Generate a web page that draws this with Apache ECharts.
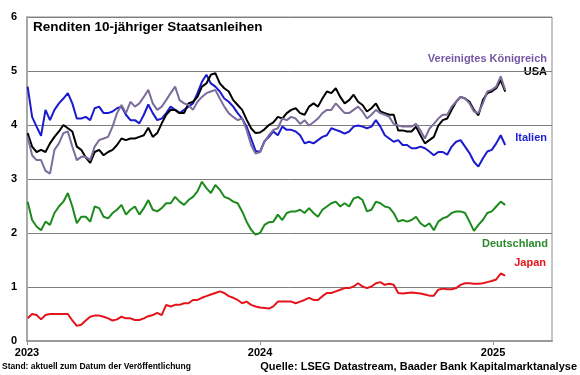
<!DOCTYPE html>
<html>
<head>
<meta charset="utf-8">
<script src="https://cdn.jsdelivr.net/npm/echarts@6/dist/echarts.min.js"></script>
<style>
html, body { margin: 0; padding: 0; background: #fff; }
#chart { width: 580px; height: 375px; }
</style>
</head>
<body>
<div id="chart"></div>
<script>
// weekly readings, first week starting Monday 2023-01-02
var firstWeek = Date.UTC(2023, 0, 2);
var yTicks = [0, 1, 2, 3, 4, 5, 6];

var italien = [4.71, 4.15, 3.97, 3.8, 4.28, 4.09, 4.28, 4.4, 4.49, 4.59,
    4.4, 4.12, 4.12, 4.15, 4.09, 4.31, 4.34, 4.22, 4.22, 4.25,
    4.31, 4.34, 4.19, 4.09, 4.09, 4.03, 4.19, 4.38,
    4.22, 4.09, 4.12, 4.22, 4.34, 4.28, 4.22, 4.28, 4.34, 4.4,
    4.59, 4.8, 4.93, 4.77, 4.71, 4.62, 4.49, 4.43, 4.34, 4.22,
    4.12, 3.97, 3.75, 3.52, 3.5, 3.7, 3.78,
    3.88, 3.81, 3.97, 3.91, 3.91, 3.88, 3.81, 3.66, 3.69, 3.66,
    3.72, 3.78, 3.81, 3.94, 3.91, 3.88, 3.84, 3.88, 3.97, 3.99,
    3.97, 3.94, 3.97, 4.09, 3.97, 3.81, 3.75,
    3.69, 3.72, 3.63, 3.63, 3.57, 3.57, 3.6, 3.57, 3.51, 3.44,
    3.5, 3.5, 3.45, 3.6, 3.69, 3.72, 3.6, 3.48, 3.32, 3.23,
    3.38, 3.51, 3.54, 3.66, 3.81, 3.63];

var usa = [3.85, 3.6, 3.5, 3.54, 3.5, 3.66, 3.78, 3.88, 4.0, 3.94,
    3.88, 3.6, 3.54, 3.4, 3.3, 3.5, 3.54, 3.44, 3.5, 3.54,
    3.63, 3.75, 3.72, 3.75, 3.75, 3.78, 3.81, 3.95,
    3.78, 3.85, 4.03, 4.19, 4.28, 4.28, 4.22, 4.22, 4.4, 4.43,
    4.52, 4.71, 4.77, 4.93, 4.96, 4.77, 4.68, 4.62, 4.46, 4.37,
    4.28, 4.1, 3.94, 3.85, 3.86, 3.92, 4.0,
    4.05, 4.15, 4.12, 4.22, 4.28, 4.31, 4.22, 4.19, 4.34, 4.4,
    4.34, 4.49, 4.62, 4.59, 4.68, 4.52, 4.4, 4.46, 4.56, 4.43,
    4.37, 4.25, 4.31, 4.4, 4.25, 4.22, 4.19,
    4.19, 3.9, 3.9, 3.88, 3.88, 3.97, 3.81, 3.66, 3.72, 3.78,
    3.99, 4.09, 4.12, 4.28, 4.43, 4.52, 4.49, 4.43, 4.28, 4.18,
    4.46, 4.59, 4.62, 4.68, 4.83, 4.62];

var uk = [3.78, 3.44, 3.35, 3.35, 3.15, 3.1, 3.54, 3.66, 3.85, 3.88,
    3.6, 3.35, 3.41, 3.41, 3.35, 3.6, 3.72, 3.75, 3.78, 3.97,
    4.22, 4.37, 4.22, 4.43, 4.34, 4.4, 4.52, 4.65,
    4.4, 4.28, 4.34, 4.46, 4.59, 4.71, 4.46, 4.4, 4.37, 4.28,
    4.43, 4.52, 4.59, 4.62, 4.65, 4.49, 4.34, 4.22, 4.15, 4.09,
    4.12, 3.91, 3.63, 3.47, 3.5, 3.69, 3.81,
    3.91, 3.94, 4.12, 4.09, 4.15, 4.12, 4.02, 4.09, 3.99, 4.05,
    4.12, 4.22, 4.28, 4.28, 4.4, 4.31, 4.22, 4.22, 4.28, 4.34,
    4.25, 4.12, 4.19, 4.28, 4.22, 4.19, 4.15,
    4.02, 3.99, 3.97, 3.97, 3.97, 4.02, 3.9, 3.75, 3.93, 4.02,
    4.12, 4.19, 4.19, 4.34, 4.43, 4.52, 4.49, 4.4, 4.25, 4.22,
    4.4, 4.62, 4.65, 4.71, 4.9, 4.65];

var deutschland = [2.58, 2.24, 2.12, 2.05, 2.21, 2.15, 2.37, 2.49, 2.58, 2.74,
    2.49, 2.18, 2.3, 2.3, 2.21, 2.49, 2.46, 2.3, 2.27, 2.37,
    2.43, 2.52, 2.34, 2.43, 2.49, 2.34, 2.46, 2.61,
    2.43, 2.4, 2.46, 2.55, 2.55, 2.67, 2.58, 2.52, 2.61, 2.67,
    2.77, 2.95, 2.83, 2.74, 2.89, 2.8, 2.67, 2.64, 2.58, 2.55,
    2.4, 2.21, 2.06, 1.97, 2.0, 2.15, 2.2,
    2.21, 2.34, 2.24, 2.37, 2.4, 2.4, 2.43, 2.37, 2.46, 2.37,
    2.3, 2.43, 2.49, 2.55, 2.58, 2.49, 2.55, 2.49, 2.64, 2.67,
    2.61, 2.4, 2.43, 2.58, 2.55, 2.49, 2.47,
    2.37, 2.21, 2.24, 2.21, 2.24, 2.3, 2.18, 2.12, 2.18, 2.05,
    2.21, 2.27, 2.3, 2.37, 2.4, 2.4, 2.37, 2.21, 2.04, 2.15,
    2.24, 2.37, 2.4, 2.49, 2.58, 2.52];

var japan = [0.42, 0.5, 0.48, 0.4, 0.48, 0.5, 0.5, 0.5, 0.5, 0.5,
    0.38, 0.28, 0.3, 0.38, 0.45, 0.47, 0.47, 0.45, 0.42, 0.38,
    0.4, 0.45, 0.42, 0.42, 0.39, 0.39, 0.42, 0.46,
    0.48, 0.52, 0.48, 0.67, 0.64, 0.67, 0.67, 0.7, 0.7, 0.76,
    0.76, 0.8, 0.83, 0.86, 0.89, 0.92, 0.89, 0.83, 0.8, 0.76,
    0.7, 0.73, 0.67, 0.64, 0.62, 0.61, 0.6,
    0.64, 0.73, 0.73, 0.73, 0.73, 0.7, 0.73, 0.76, 0.8, 0.76,
    0.76, 0.83, 0.89, 0.89, 0.92, 0.95, 0.98, 0.98, 1.01, 1.07,
    1.01, 0.98, 1.01, 1.07, 1.09, 1.04, 1.06,
    1.04, 0.89, 0.88, 0.89, 0.9, 0.89, 0.88, 0.86, 0.84, 0.84,
    0.95, 0.97, 0.96, 0.96, 0.98, 1.04, 1.07, 1.07, 1.06, 1.06,
    1.07, 1.09, 1.11, 1.14, 1.25, 1.21];

// date of week i as decimal year, so that year ticks land on 1 January
function weekToYear(i) {
    var t = firstWeek + i * 7 * 86400000;
    var y = new Date(t).getUTCFullYear();
    var a = Date.UTC(y, 0, 1), b = Date.UTC(y + 1, 0, 1);
    return y + (t - a) / (b - a);
}
function pts(arr) {
    return arr.map(function(v, i) { return [weekToYear(i), v]; });
}

var FONT = '"Liberation Sans", Arial, sans-serif';
var chart = echarts.init(document.getElementById('chart'));

function line(name, arr, color) {
    return {
        name: name,
        type: 'line',
        data: pts(arr),
        showSymbol: false,
        symbol: 'none',
        lineStyle: { color: color, width: 2 },
        itemStyle: { color: color },
        animation: false
    };
}

function label(text, x, y, color, size) {
    return {
        type: 'text',
        x: x, y: y,
        style: {
            text: text,
            fill: color,
            font: 'bold ' + size + 'px ' + FONT,
            textAlign: 'right', align: 'right',
            textVerticalAlign: 'middle', verticalAlign: 'middle'
        }
    };
}

var option = {
    animation: false,
    grid: {
        left: 27, right: 28, top: 17, bottom: 34,
        containLabel: false,
        outerBoundsMode: 'none',
        show: true,
        borderColor: '#8c8c8c',
        borderWidth: 1
    },
    xAxis: {
        type: 'value',
        min: 2023,
        max: 2025.253,
        interval: 1,
        axisLine: { lineStyle: { color: '#9a9a9a', width: 2 } },
        axisTick: { show: true, length: 4, lineStyle: { color: '#9a9a9a' } },
        splitLine: { show: false },
        axisLabel: {
            showMaxLabel: false,
            margin: 6,
            color: '#000',
            fontWeight: 'bold',
            fontSize: 11,
            fontFamily: FONT,
            formatter: function(v) { return Math.round(v) === v ? String(v) : ''; }
        }
    },
    yAxis: {
        type: 'value',
        min: yTicks[0],
        max: yTicks[yTicks.length - 1],
        interval: 1,
        axisLine: { show: true, lineStyle: { color: '#a8a8a8', width: 2 } },
        axisTick: { show: false },
        splitLine: { lineStyle: { color: '#7f7f7f', width: 1 } },
        axisLabel: {
            margin: 10,
            color: '#000',
            fontWeight: 'bold',
            fontSize: 11,
            fontFamily: FONT
        }
    },
    series: [
        line('Deutschland', deutschland, '#1c8a1c'),
        line('Japan', japan, '#e3141b'),
        line('Italien', italien, '#1a1acf'),
        line('USA', usa, '#000000'),
        line('Vereinigtes Königreich', uk, '#7c6d9c')
    ],
    graphic: [
        {
            type: 'text', x: 33, y: 27,
            style: {
                text: 'Renditen 10-jähriger Staatsanleihen',
                fill: '#000',
                font: 'bold 13.5px ' + FONT,
                textVerticalAlign: 'middle', verticalAlign: 'middle'
            }
        },
        label('Vereinigtes Königreich', 547, 59, '#7757a3', 11),
        label('USA', 547, 72, '#000', 11),
        label('Italien', 547, 138, '#1f1fd6', 11),
        label('Deutschland', 548, 244, '#2a8a2a', 11),
        label('Japan', 546, 263, '#e3141b', 11),
        {
            type: 'text', x: 2, y: 367,
            style: {
                text: 'Stand: aktuell zum Datum der Veröffentlichung',
                fill: '#000',
                font: 'bold 8.5px ' + FONT,
                textVerticalAlign: 'middle', verticalAlign: 'middle'
            }
        },
        label('Quelle: LSEG Datastream, Baader Bank Kapitalmarktanalyse', 577, 367, '#000', 11)
    ]
};

chart.setOption(option);
</script>
</body>
</html>
